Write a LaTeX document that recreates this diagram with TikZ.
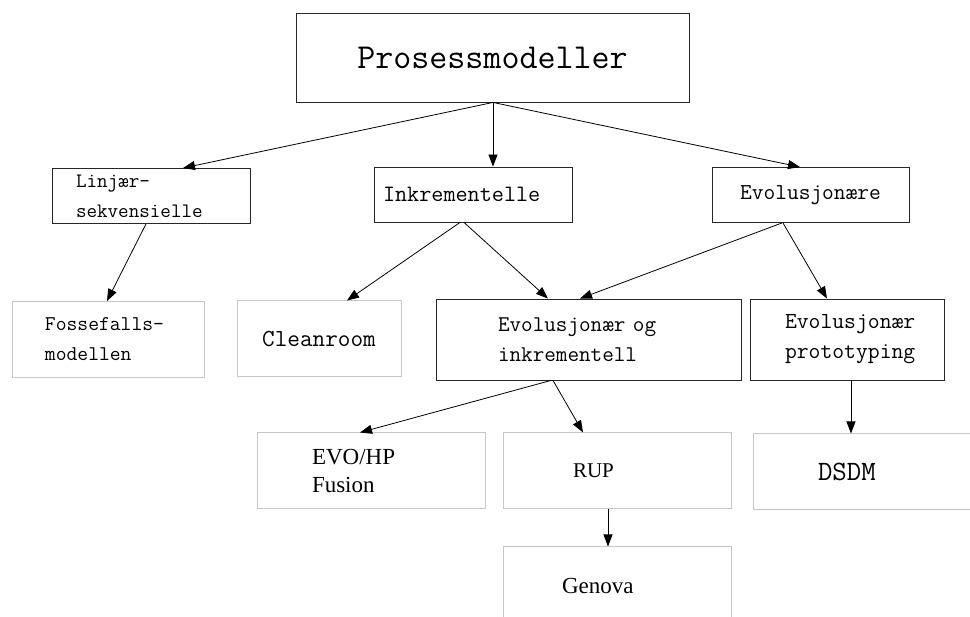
\documentclass[tikz,border=0pt]{standalone}
\usepackage{fontspec}
\newfontfamily\leaffont{Liberation Serif}
\usetikzlibrary{arrows.meta}
\hyphenpenalty=10000
\tikzset{
  box/.style={draw=black!85, line width=0.9pt, rectangle, inner ysep=0pt},
  leaf/.style={draw=black!22, line width=1pt, rectangle, inner ysep=0pt},
  link/.style={draw=black, line width=0.8pt, -{Triangle[length=12pt,width=9pt]}},
  tt/.style={font=\ttfamily\fontsize{#1}{30}\selectfont},
  rm/.style={font=\leaffont\fontsize{#1}{28}\selectfont},
}
\begin{document}
\begin{tikzpicture}[x=1pt,y=-1pt]
\useasboundingbox (0,0) rectangle (970,617);
\fill[white] (0,0) rectangle (970,617);

% root
\node[box, tt=35, minimum width=393, minimum height=89] (top) at (492.5,57.5) {Prosessmodeller};

% first level
\node[box, tt=20.5, minimum width=198, minimum height=55, inner xsep=24, text width=150, align=left]
  (lin) at (151,196) {Linjær–\\sekvensielle};
\node[box, tt=23.5, minimum width=198, minimum height=55, inner xsep=9, text width=180, align=left]
  (ink) at (473,194.5) {Inkrementelle};
\node[box, tt=22.8, minimum width=197, minimum height=55]
  (evo) at (810.5,195) {Evolusjonære};

% second level
\node[leaf, tt=21, minimum width=192, minimum height=76, inner xsep=33, text width=126, align=left]
  (foss) at (108,339.5) {Fossefalls–\\modellen};
\node[leaf, tt=24.5, minimum width=164, minimum height=76]
  (clean) at (319,339) {Cleanroom};
\node[box, tt=22.5, minimum width=305, minimum height=81, inner xsep=62, text width=181, align=left]
  (ei) at (588.5,339.5) {Evolusjonær og\\inkrementell};
\node[box, tt=23, minimum width=194, minimum height=81, inner xsep=35, text width=124, align=left]
  (proto) at (847,339.5) {Evolusjonær\\prototyping};

% third level
\node[leaf, rm=23, minimum width=228, minimum height=76, inner xsep=55, text width=118, align=left]
  (evohp) at (371,471) {EVO/HP\\Fusion};
\node[leaf, rm=21, minimum width=228, minimum height=76, inner xsep=70, text width=88, align=left]
  (rup) at (617,471) {RUP};
\node[leaf, tt=28, minimum width=222, minimum height=76, inner xsep=65, text width=92, align=left]
  (dsdm) at (864,472) {DSDM};

% fourth level
\node[leaf, rm=23, minimum width=228, minimum height=78, inner xsep=59, text width=110, align=left]
  (genova) at (617,586) {Genova};

% connectors
\draw[link] ([xshift=0.5]top.south) -- ([xshift=32]lin.north);
\draw[link] ([xshift=0.5]top.south) -- ([xshift=20]ink.north);
\draw[link] ([xshift=0.5]top.south) -- ([xshift=-10.5]evo.north);
\draw[link] ([xshift=-5]lin.south) -- ([xshift=-1]foss.north);
\draw[link] ([xshift=-13]ink.south) -- ([xshift=28]clean.north);
\draw[link] ([xshift=-9]ink.south) -- ([xshift=-40.5]ei.north);
\draw[link] ([xshift=-28.5]evo.south) -- ([xshift=-8.5]ei.north);
\draw[link] ([xshift=-27.5]evo.south) -- ([xshift=-20]proto.north);
\draw[link] ([xshift=-37.5]ei.south) -- ([xshift=-11]evohp.north);
\draw[link] ([xshift=-35.5]ei.south) -- ([xshift=-34]rup.north);
\draw[link] ([xshift=-9]rup.south) -- ([xshift=-9]genova.north);
\draw[link] ([xshift=4]proto.south) -- ([xshift=-13]dsdm.north);
\end{tikzpicture}
\end{document}
